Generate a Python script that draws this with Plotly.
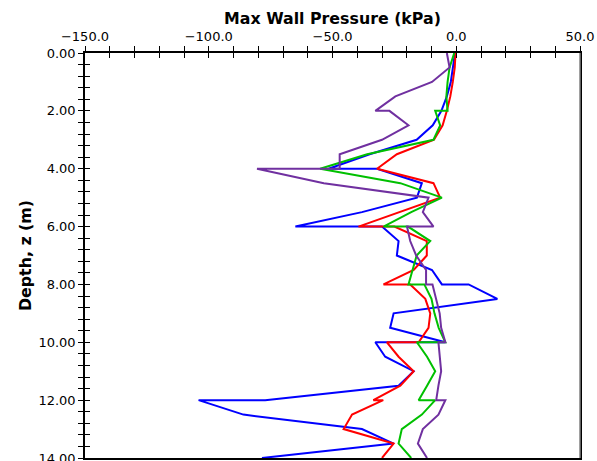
import plotly.graph_objects as go

# Depth stations (m); boundaries between 2 m layers appear twice (top/bottom of layer)
depth = [0.0, 0.5, 1.0, 1.5, 2.0,
         2.0, 2.5, 3.0, 3.5, 4.0,
         4.0, 4.5, 5.0, 5.5, 6.0,
         6.0, 6.5, 7.0, 7.5, 8.0,
         8.0, 8.5, 9.0, 9.5, 10.0,
         10.0, 10.5, 11.0, 11.5, 12.0,
         12.0, 12.5, 13.0, 13.5, 14.0]

# Max wall pressure (kPa) per run
p_blue = [-0.5, -1.2, -2.2, -3.8, -6.0,
          -6.0, -9.5, -16.0, -35.0, -51.6,
          -32.0, -13.9, -15.9, -38.1, -65.0,
          -30.0, -23.3, -24.0, -9.8, -5.8,
          5.0, 16.6, -25.3, -26.7, -4.4,
          -32.7, -28.7, -17.2, -23.3, -77.2,
          -104.1, -86.0, -38.1, -25.3, -78.5]

p_red = [-0.3, -0.6, -1.4, -2.4, -3.8,
         -3.8, -5.5, -9.0, -24.0, -32.0,
         -32.0, -9.2, -6.5, -23.4, -39.5,
         -25.0, -11.9, -11.9, -17.2, -29.4,
         -18.6, -12.5, -10.5, -11.2, -15.2,
         -28.0, -23.3, -17.2, -22.6, -33.5,
         -29.5, -42.1, -45.5, -25.3, -30.0]

p_green = [-0.8, -2.7, -3.5, -4.0, -3.5,
           -8.5, -6.5, -9.2, -36.0, -55.0,
           -55.0, -22.6, -5.8, -18.2, -29.4,
           -19.5, -10.5, -16.0, -17.5, -19.3,
           -12.9, -10.0, -8.8, -7.1, -4.4,
           -15.9, -11.8, -8.5, -11.8, -15.2,
           -8.5, -13.9, -22.0, -23.3, -18.2]

p_purple = [-3.8, -2.7, -9.8, -24.6, -32.7,
            -27.0, -19.3, -30.0, -47.1, -47.1,
            -80.5, -53.5, -11.2, -13.5, -9.2,
            -19.9, -18.6, -16.2, -12.2, -12.2,
            -9.6, -8.1, -6.7, -6.1, -4.4,
            -7.2, -6.5, -6.1, -7.2, -8.1,
            -4.4, -7.2, -13.5, -15.5, -11.8]

series = [
    (p_blue, "#0000FF"),
    (p_red, "#FF0000"),
    (p_green, "#00C000"),
    (p_purple, "#7030A0"),
]

FONT = "DejaVu Sans, Verdana, sans-serif"

fig = go.Figure()
for vals, color in series:
    fig.add_trace(go.Scatter(x=vals, y=depth, mode="lines",
                             line=dict(color=color, width=2),
                             showlegend=False, hoverinfo="skip"))

# Empty trace on the overlay axes that carry the inward half of the tick marks
fig.add_trace(go.Scatter(x=[None], y=[None], xaxis="x2", yaxis="y2",
                         showlegend=False, hoverinfo="skip"))

x_range = [-150, 50]
y_range = [14, 0]

fig.update_layout(
    width=597, height=461,
    margin=dict(l=85, r=17, t=53, b=3, autoexpand=False),
    paper_bgcolor="white", plot_bgcolor="white",
    font=dict(family=FONT, size=13, color="black"),
    xaxis=dict(
        side="top", range=x_range, dtick=50, tick0=-150, tickformat=".1f",
        showgrid=False, zeroline=False, automargin=False,
        showline=True, linecolor="black", linewidth=1.5, mirror=True,
        ticks="outside", ticklen=5, tickwidth=1, tickcolor="black",
        minor=dict(dtick=10, tick0=-150, ticks="outside", ticklen=5,
                   tickcolor="black", showgrid=False),
        title=dict(text="<b>Max Wall Pressure (kPa)</b>", standoff=1,
                   font=dict(family=FONT, size=15.8)),
        tickfont=dict(size=13),
        ticklabeloverflow="allow",
    ),
    yaxis=dict(
        range=y_range, dtick=2, tick0=0, tickformat=".2f",
        showgrid=False, zeroline=False, automargin=False,
        showline=True, linecolor="black", linewidth=1.5, mirror=True,
        ticks="outside", ticklen=5, tickwidth=1, tickcolor="black",
        minor=dict(dtick=0.4, tick0=0, ticks="outside", ticklen=5,
                   tickcolor="black", showgrid=False),
        title=dict(text="<b>Depth, z (m)</b>", standoff=3,
                   font=dict(family=FONT, size=15.8)),
        tickfont=dict(size=13),
        ticklabeloverflow="allow",
    ),
    xaxis2=dict(
        overlaying="x", side="top", range=x_range, dtick=50, tick0=-150,
        showticklabels=False, showgrid=False, zeroline=False, showline=False,
        ticks="inside", ticklen=5, tickcolor="black", automargin=False,
        minor=dict(dtick=10, tick0=-150, ticks="inside", ticklen=5,
                   tickcolor="black", showgrid=False),
    ),
    yaxis2=dict(
        overlaying="y", side="left", range=y_range, dtick=2, tick0=0,
        showticklabels=False, showgrid=False, zeroline=False, showline=False,
        ticks="inside", ticklen=5, tickcolor="black", automargin=False,
        minor=dict(dtick=0.4, tick0=0, ticks="inside", ticklen=5,
                   tickcolor="black", showgrid=False),
    ),
    shapes=[dict(type="line", xref="paper", yref="paper", x0=1, x1=1, y0=0, y1=1,
                 line=dict(color="#808080", width=1.5))],
)

fig.write_html("out.html")
